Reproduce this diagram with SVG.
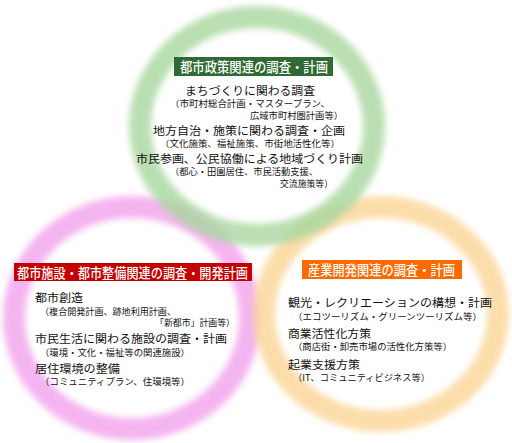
<svg xmlns="http://www.w3.org/2000/svg" width="512" height="443" viewBox="0 0 512 443">
<defs>
<filter id="soft" x="-20%" y="-20%" width="140%" height="140%"><feGaussianBlur stdDeviation="3"/></filter>
</defs>
<style>
.ring{fill:none;stroke-width:22;filter:url(#soft);opacity:0.8}
.tt{font-family:"Noto Sans CJK JP","Noto Sans CJK SC",sans-serif;font-size:13.5px;fill:#fff;font-weight:500}
.h{font-family:"Noto Sans CJK JP","Noto Sans CJK SC",sans-serif;font-size:11.5px;fill:#111}
.s{font-family:"Noto Sans CJK JP","Noto Sans CJK SC",sans-serif;font-size:9px;fill:#111}
</style>
<rect width="512" height="443" fill="#fff"/>
<g id="rings">
<ellipse class="ring" cx="132" cy="318" rx="118" ry="111" stroke="#f2a2ec"/>
<ellipse class="ring" cx="381" cy="314" rx="117" ry="107" stroke="#fbd596"/>
<ellipse class="ring" cx="257" cy="126" rx="117" ry="109" stroke="#a8d79f"/>
</g>
<g id="node-policy">
<rect x="174" y="57" width="159" height="19" fill="#2f6a34"/>
<text class="tt" x="180" y="72" textLength="148" lengthAdjust="spacingAndGlyphs">都市政策関連の調査・計画</text>
<text class="h" x="185" y="95" textLength="130" lengthAdjust="spacingAndGlyphs">まちづくりに関わる調査</text>
<text class="s" x="170" y="107" textLength="160" lengthAdjust="spacingAndGlyphs">（市町村総合計画・マスタープラン、</text>
<text class="s" x="250" y="118.5" textLength="93" lengthAdjust="spacingAndGlyphs">広域市町村圏計画等）</text>
<text class="h" x="153" y="134.5" textLength="192" lengthAdjust="spacingAndGlyphs">地方自治・施策に関わる調査・企画</text>
<text class="s" x="160" y="146.5" textLength="180" lengthAdjust="spacingAndGlyphs">（文化施策、福祉施策、市街地活性化等）</text>
<text class="h" x="136" y="163" textLength="227" lengthAdjust="spacingAndGlyphs">市民参画、公民協働による地域づくり計画</text>
<text class="s" x="170" y="175" textLength="148" lengthAdjust="spacingAndGlyphs">（都心・田園居住、市民活動支援、</text>
<text class="s" x="280" y="186.5" textLength="53" lengthAdjust="spacingAndGlyphs">交流施策等）</text>
</g>
<g id="node-facility">
<rect x="14" y="263" width="238" height="18" fill="#c40000"/>
<text class="tt" x="17" y="277.5" textLength="231" lengthAdjust="spacingAndGlyphs">都市施設・都市整備関連の調査・開発計画</text>
<text class="h" x="35" y="302" textLength="48" lengthAdjust="spacingAndGlyphs">都市創造</text>
<text class="s" x="40" y="314.5" textLength="136" lengthAdjust="spacingAndGlyphs">（複合開発計画、跡地利用計画、</text>
<text class="s" x="155" y="326" textLength="80" lengthAdjust="spacingAndGlyphs">「新都市」計画等）</text>
<text class="h" x="35" y="343" textLength="192" lengthAdjust="spacingAndGlyphs">市民生活に関わる施設の調査・計画</text>
<text class="s" x="40" y="355.5" textLength="150" lengthAdjust="spacingAndGlyphs">（環境・文化・福祉等の関連施設）</text>
<text class="h" x="35" y="373" textLength="85" lengthAdjust="spacingAndGlyphs">居住環境の整備</text>
<text class="s" x="40" y="385" textLength="150" lengthAdjust="spacingAndGlyphs">（コミュニティプラン、住環境等）</text>
</g>
<g id="node-industry">
<rect x="302" y="260" width="160" height="19" fill="#ff6a00"/>
<text class="tt" x="308" y="275" textLength="147" lengthAdjust="spacingAndGlyphs">産業開発関連の調査・計画</text>
<text class="h" x="288" y="307" textLength="204" lengthAdjust="spacingAndGlyphs">観光・レクリエーションの構想・計画</text>
<text class="s" x="293" y="319.5" textLength="189" lengthAdjust="spacingAndGlyphs">（エコツーリズム・グリーンツーリズム等）</text>
<text class="h" x="288" y="338" textLength="83" lengthAdjust="spacingAndGlyphs">商業活性化方策</text>
<text class="s" x="293" y="350" textLength="159" lengthAdjust="spacingAndGlyphs">（商店街・卸売市場の活性化方策等）</text>
<text class="h" x="288" y="368.5" textLength="72" lengthAdjust="spacingAndGlyphs">起業支援方策</text>
<text class="s" x="293" y="380.5" textLength="137" lengthAdjust="spacingAndGlyphs">（IT、コミュニティビジネス等）</text>
</g>
</svg>
